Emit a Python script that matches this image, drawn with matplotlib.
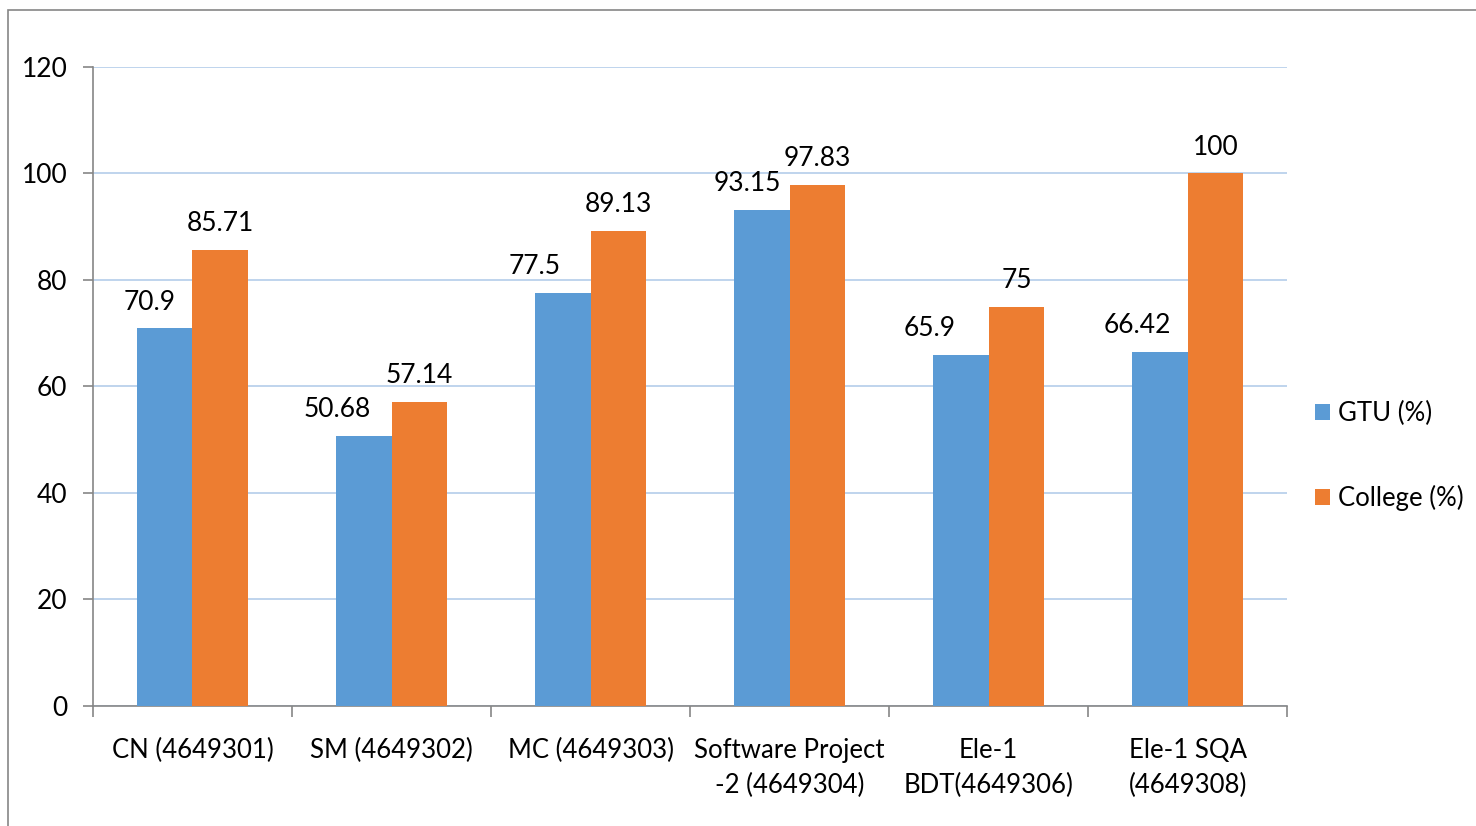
import matplotlib.pyplot as plt
import numpy as np
from matplotlib.patches import Rectangle

plt.rcParams['font.family'] = ['Lato', 'DejaVu Sans']

# data
subjects = ['CN (4649301)', 'SM (4649302)', 'MC (4649303)',
            'Software Project\n-2 (4649304)', 'Ele-1\nBDT(4649306)', 'Ele-1 SQA\n(4649308)']
gtu = [70.9, 50.68, 77.5, 93.15, 65.9, 66.42]
college = [85.71, 57.14, 89.13, 97.83, 75, 100]
gtu_labels = ['70.9', '50.68', '77.5', '93.15', '65.9', '66.42']
college_labels = ['85.71', '57.14', '89.13', '97.83', '75', '100']

# horizontal nudges of the GTU value labels (points), as placed in the original
gtu_shift = [-11, -19, -20, -10, -22, -16]

blue = '#5B9BD5'
orange = '#ED7D31'
grey = '#868686'

fig = plt.figure(figsize=(14.76, 8.26), dpi=100)
ax = fig.add_axes([0.063, 0.1453, 0.809, 0.7736])

# outer chart border
fig.patches.append(Rectangle((8 / 1476, -0.01), 1.1, 1 - 10 / 826 + 0.01,
                             transform=fig.transFigure, fill=False,
                             edgecolor=grey, linewidth=1.2))

x = np.arange(len(subjects))
w = 0.281
b1 = ax.bar(x - w / 2, gtu, w, color=blue, label='GTU (%)', zorder=3)
b2 = ax.bar(x + w / 2, college, w, color=orange, label='College (%)', zorder=3)

for rect, lab, dx in zip(b1, gtu_labels, gtu_shift):
    ax.annotate(lab, (rect.get_x() + rect.get_width() / 2, rect.get_height()),
                xytext=(dx, 10), textcoords='offset points',
                ha='center', va='bottom', fontsize=19, color='black')
for rect, lab in zip(b2, college_labels):
    ax.annotate(lab, (rect.get_x() + rect.get_width() / 2, rect.get_height()),
                xytext=(0, 10), textcoords='offset points',
                ha='center', va='bottom', fontsize=19, color='black')

ax.set_xlim(-0.5, len(subjects) - 0.5)
ax.set_ylim(0, 120)
ax.set_yticks(range(0, 121, 20))
ax.yaxis.grid(True, color='#B4CDEA', linewidth=1.2, zorder=0)
ax.set_axisbelow(True)

ax.set_xticks(np.arange(-0.5, len(subjects), 1), minor=False)
ax.set_xticklabels([''] * (len(subjects) + 1))
ax.set_xticks(x, minor=True)
ax.set_xticklabels(subjects, minor=True, fontsize=18.5, linespacing=1.5)
ax.tick_params(axis='x', which='major', length=8, color=grey, width=1.2)
ax.tick_params(axis='x', which='minor', length=0, pad=23)
ax.tick_params(axis='y', length=7.5, color=grey, width=1.2, labelsize=19, pad=11)

for s in ('top', 'right'):
    ax.spines[s].set_visible(False)
for s in ('left', 'bottom'):
    ax.spines[s].set_color(grey)
    ax.spines[s].set_linewidth(1.2)

fig.legend(handles=[b1, b2], loc='center left', bbox_to_anchor=(0.875, 0.448),
           frameon=False, fontsize=18.5, handlelength=0.6, handleheight=0.6,
           handletextpad=0.3, labelspacing=2.3)

fig.savefig('out.png', dpi=100)
